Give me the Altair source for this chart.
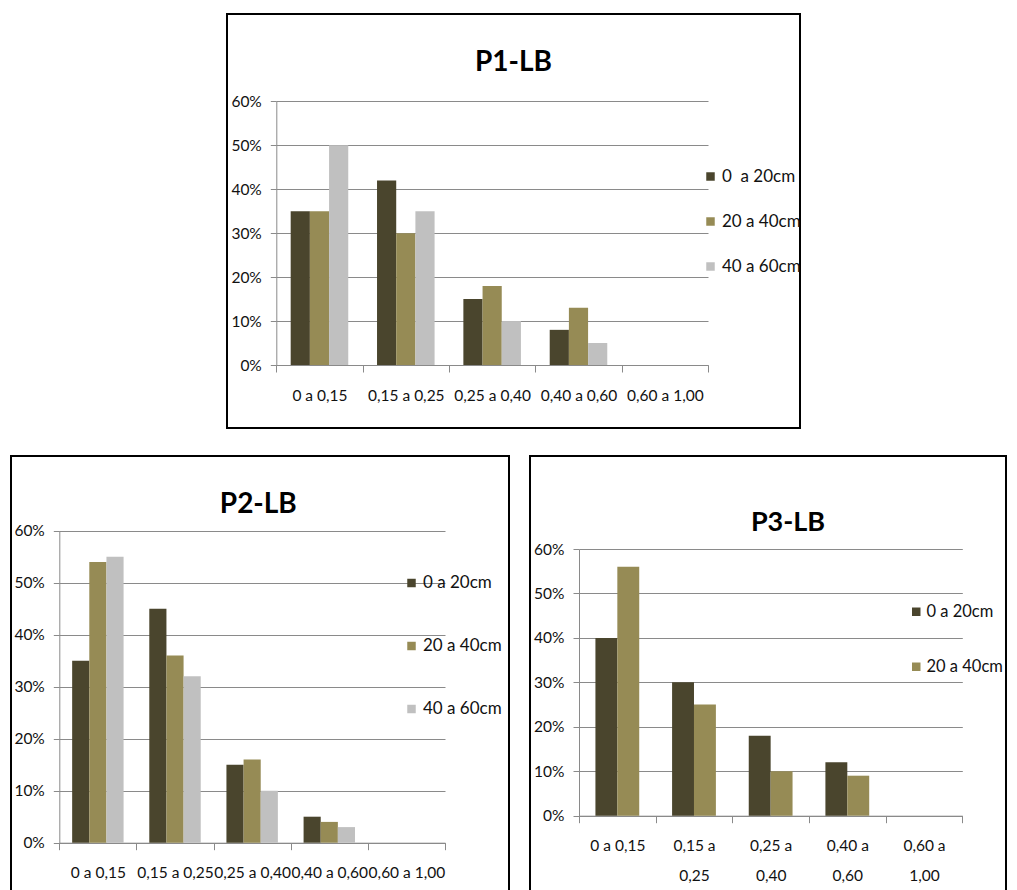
import altair as alt
import pandas as pd

# ---------------- data ----------------
categories = ["0 a 0,15", "0,15 a 0,25", "0,25 a 0,40", "0,40 a 0,60", "0,60 a 1,00"]
series_p1 = ["0\u00a0 a 20cm", "20 a 40cm", "40 a 60cm"]
series_p2 = ["0 a 20cm", "20 a 40cm", "40 a 60cm"]
series_p3 = ["0 a 20cm", "20 a 40cm"]

p1_0_20 = [0.35, 0.42, 0.15, 0.08, 0.0]
p1_20_40 = [0.35, 0.30, 0.18, 0.13, 0.0]
p1_40_60 = [0.50, 0.35, 0.10, 0.05, 0.0]

p2_0_20 = [0.35, 0.45, 0.15, 0.05, 0.0]
p2_20_40 = [0.54, 0.36, 0.16, 0.04, 0.0]
p2_40_60 = [0.55, 0.32, 0.10, 0.03, 0.0]

p3_0_20 = [0.40, 0.30, 0.18, 0.12, 0.0]
p3_20_40 = [0.56, 0.25, 0.10, 0.09, 0.0]

y_ticks = [0, 0.1, 0.2, 0.3, 0.4, 0.5, 0.6]
colors = ["#4A452D", "#968B55", "#C0C0C0"]

FONT = "Lato"
GREY = "#8A8A8A"
TXT = "#111111"


def panel(title, names, values, W, H, px0, px1, py0, py1,
          title_size, title_base, title_dx,
          leg_x, leg_y, leg_row_pad, leg_label_off, leg_font,
          x_label_pad, multiline=False):
    rows = []
    for name, vals in zip(names, values):
        for c, v in zip(categories, vals):
            rows.append({"cat": c, "serie": name, "val": v})
    df = pd.DataFrame(rows)
    step = (px1 - px0) / len(categories)

    x_axis_kw = dict(
        title=None, orient="bottom", offset=py0 - H, tickBand="extent",
        tickSize=7, tickColor=GREY, domainColor=GREY, grid=False,
        labelFont=FONT, labelFontSize=15.5, labelColor=TXT,
        labelPadding=x_label_pad, labelOverlap=False, labelAngle=0,
    )
    if multiline:
        x_axis_kw["labelExpr"] = ("length(datum.label) > 9 ? "
                                  "[slice(datum.label, 0, 6), slice(datum.label, 7)] : datum.label")
        x_axis_kw["labelLineHeight"] = 30
    x_axis = alt.Axis(**x_axis_kw)

    y_axis = alt.Axis(
        title=None, orient="left", offset=-px0, values=y_ticks, format=".0%",
        tickSize=6, tickColor=GREY, domainColor=GREY, grid=True, gridColor=GREY,
        labelFont=FONT, labelFontSize=15.5, labelColor=TXT, labelPadding=9,
    )

    legend = alt.Legend(
        title=None, orient="none", legendX=leg_x, legendY=leg_y,
        symbolType="square", symbolSize=72, symbolStrokeWidth=0,
        labelFont=FONT, labelFontSize=leg_font, labelColor=TXT,
        labelOffset=leg_label_off, rowPadding=leg_row_pad, padding=0,
    )

    return alt.Chart(df).mark_bar().encode(
        x=alt.X("cat:N", sort=categories,
                scale=alt.Scale(range=[px0, px1], paddingInner=0, paddingOuter=0),
                axis=x_axis),
        xOffset=alt.XOffset("serie:N", sort=names,
                            scale=alt.Scale(domain=names, range=[0, step],
                                            paddingInner=0, paddingOuter=0.75)),
        y=alt.Y("val:Q", scale=alt.Scale(domain=[0, 0.6], range=[py0, py1], nice=False),
                axis=y_axis),
        color=alt.Color("serie:N", sort=names,
                        scale=alt.Scale(domain=names, range=colors[:len(names)]),
                        legend=legend),
    ).properties(
        width=W, height=H,
        title=alt.TitleParams(text=title, font=FONT, fontSize=title_size, fontWeight="bold",
                              color="black", anchor="middle", frame="group",
                              offset=-(title_base + 0.92 * title_size),
                              baseline="alphabetic", dx=title_dx),
        view=alt.ViewBackground(stroke="black", strokeWidth=2, fill="white"),
    )


p1 = panel("P1-LB", series_p1, [p1_0_20, p1_20_40, p1_40_60],
           573, 414, 49.3, 481, 351, 87.3,
           28, 59.3, 0,
           475, 154, 27, 3, 17, 16)

p2 = panel("P2-LB", series_p2, [p2_0_20, p2_20_40, p2_40_60],
           498, 440, 48.3, 434, 386.7, 74.7,
           28, 59, -1.7,
           392, 118.5, 45, 3, 17, 16)

p3 = panel("P3-LB", series_p3, [p3_0_20, p3_20_40],
           476, 440, 49, 432.3, 359.7, 93,
           27, 77.3, 20,
           378, 147.5, 38, 2, 16.5, 16, multiline=True)

spacer = alt.Chart(pd.DataFrame({"a": [0]})).mark_point(opacity=0).encode(
    x=alt.value(100), y=alt.value(5)
).properties(width=215, height=10,
             view=alt.ViewBackground(fill="white", strokeWidth=0))


def indep(c):
    return c.resolve_scale(color="independent", xOffset="independent",
                           x="independent", y="independent").resolve_legend(color="independent")


top = indep(alt.hconcat(spacer, p1, spacing=0))
bottom = indep(alt.hconcat(p2, p3, spacing=19))

chart = indep(alt.vconcat(top, bottom, spacing=26)).properties(
    padding={"left": 2, "top": 5, "right": 0, "bottom": 0},
    background="white",
).configure_view(stroke="transparent")

chart.save("out.html", embed_options={"renderer": "svg", "actions": False})
